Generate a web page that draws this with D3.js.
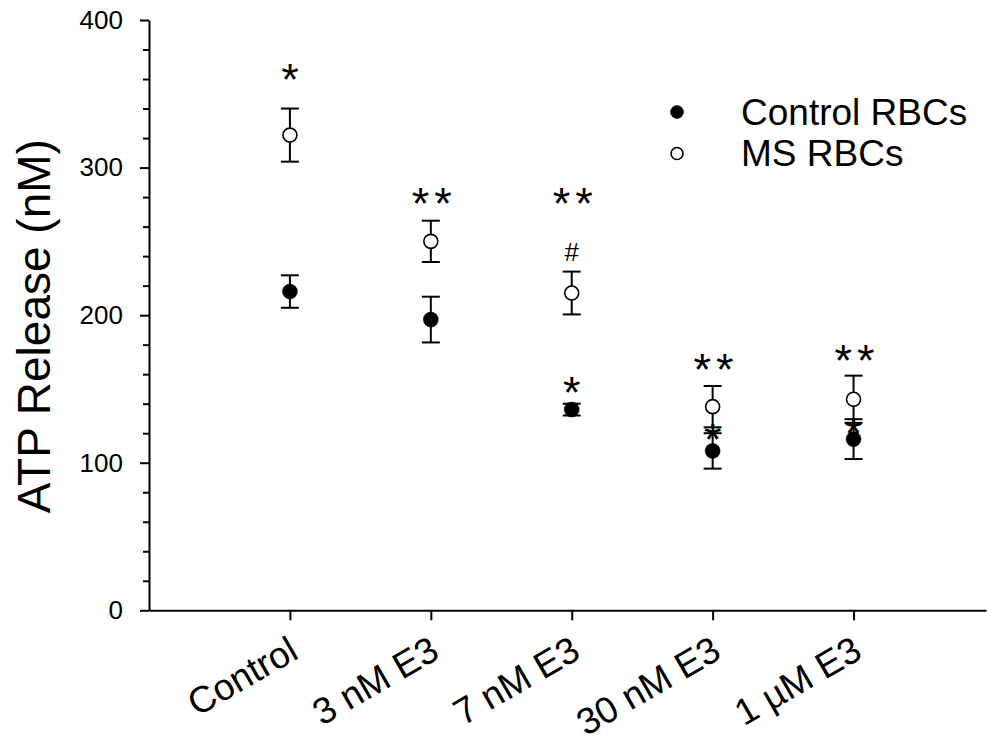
<!DOCTYPE html>
<html>
<head>
<meta charset="utf-8">
<script src="https://cdn.jsdelivr.net/npm/d3@7"></script>
<style>
  html, body { margin: 0; padding: 0; background: #fff; }
  svg { display: block; font-family: Arial, "Liberation Sans", sans-serif; }
</style>
</head>
<body>
<svg id="chart" width="987" height="746"></svg>
<script>
// Treatment groups along the x axis
const categories = ["Control", "3 nM E3", "7 nM E3", "30 nM E3", "1 µM E3"];

// ATP release (nM), mean and error for each group
const controlMean = [216, 197, 136, 108, 116];
const controlErr  = [11, 15.5, 4, 12, 13.5];
const msMean      = [322, 250, 215, 138, 143];
const msErr       = [18, 14, 14.5, 14, 16];

// Series names for the legend
const seriesNames = ["Control RBCs", "MS RBCs"];

// Y axis ticks
const yMajorTicks = [0, 100, 200, 300, 400];
const yMinorTicks = [20, 40, 60, 80, 120, 140, 160, 180, 220, 240, 260, 280, 320, 340, 360, 380];

// Significance marks: group index, symbol, height (nM) of the mark's centre
const marks = [
  { i: 0, text: "*",  value: 365 },
  { i: 1, text: "**", value: 281 },
  { i: 2, text: "**", value: 281 },
  { i: 2, text: "#",  value: 243 },
  { i: 2, text: "*",  value: 152.5 },
  { i: 3, text: "**", value: 168.5 },
  { i: 3, text: "*",  value: 121 },
  { i: 4, text: "**", value: 174.5 },
  { i: 4, text: "*",  value: 125 }
];

const FONT = "Arial, 'Liberation Sans', sans-serif";
const svg = d3.select("#chart");

const x = d3.scaleLinear().domain([-1, 4.94]).range([149, 986]);
const y = d3.scaleLinear().domain([0, 400]).range([610.3, 20]);

// Y axis: major ticks with labels, minor ticks without
const yAxis = svg.append("g")
  .attr("transform", `translate(${x(-1)},0)`)
  .call(d3.axisLeft(y).tickValues(yMajorTicks).tickSize(9).tickSizeOuter(0).tickPadding(17));
yAxis.selectAll("text").attr("font-size", 26).attr("font-family", FONT).attr("fill", "#000");

const yMinor = svg.append("g")
  .attr("transform", `translate(${x(-1)},0)`)
  .call(d3.axisLeft(y).tickValues(yMinorTicks).tickSize(6).tickSizeOuter(0).tickFormat(""));
yMinor.select(".domain").remove();

// X axis with rotated category labels
const xAxis = svg.append("g")
  .attr("transform", `translate(0,${y(0)})`)
  .call(d3.axisBottom(x).tickValues(d3.range(categories.length)).tickSize(10).tickSizeOuter(0)
    .tickFormat(i => categories[i]));
xAxis.selectAll("text")
  .attr("font-size", 37)
  .attr("font-family", FONT)
  .attr("fill", "#000")
  .attr("text-anchor", "end")
  .attr("x", 0).attr("y", 0).attr("dy", 0)
  .attr("transform", "translate(10,47) rotate(-30)");

svg.selectAll(".domain, .tick line").attr("stroke", "#000").attr("stroke-width", 2);

// Y axis title
svg.append("text")
  .attr("transform", `translate(50,${(y(0) + y(400)) / 2 + 11}) rotate(-90)`)
  .attr("text-anchor", "middle")
  .attr("font-size", 46)
  .attr("fill", "#000")
  .text("ATP Release (nM)");

// Error bars and points for each series
function drawSeries(means, errs, filled) {
  const g = svg.append("g");
  const capHalf = 9;
  means.forEach((m, i) => {
    const cx = x(i);
    const lo = y(m - errs[i]), hi = y(m + errs[i]);
    g.append("line").attr("x1", cx).attr("x2", cx).attr("y1", lo).attr("y2", hi)
      .attr("stroke", "#000").attr("stroke-width", 2);
    [lo, hi].forEach(yy => g.append("line")
      .attr("x1", cx - capHalf).attr("x2", cx + capHalf).attr("y1", yy).attr("y2", yy)
      .attr("stroke", "#000").attr("stroke-width", 2));
  });
  g.selectAll("circle").data(means).join("circle")
    .attr("cx", (d, i) => x(i))
    .attr("cy", d => y(d))
    .attr("r", filled ? 7.5 : 7)
    .attr("fill", filled ? "#000" : "#fff")
    .attr("stroke", "#000")
    .attr("stroke-width", filled ? 0.5 : 1.6);
}
drawSeries(controlMean, controlErr, true);
drawSeries(msMean, msErr, false);

// Significance marks
svg.append("g").selectAll("text").data(marks).join("text")
  .attr("x", d => x(d.i))
  .attr("y", d => y(d.value))
  .attr("text-anchor", "middle")
  .attr("fill", "#000")
  .attr("font-size", d => d.text === "#" ? 26 : 45)
  .attr("letter-spacing", d => d.text === "**" ? 5 : 0)
  .attr("dx", d => d.text === "**" ? 3.5 : 0)
  .attr("dy", d => d.text === "#" ? "0.36em" : "0.51em")
  .text(d => d.text);

// Legend
const legend = svg.append("g");
seriesNames.forEach((name, k) => {
  const ly = 112 + k * 41.5;
  legend.append("circle").attr("cx", 677).attr("cy", ly).attr("r", k === 0 ? 6.5 : 6)
    .attr("fill", k === 0 ? "#000" : "#fff").attr("stroke", "#000").attr("stroke-width", k === 0 ? 0.5 : 1.6);
  legend.append("text").attr("x", 741).attr("y", ly + 12.5).attr("font-size", 37).attr("fill", "#000").text(name);
});
</script>
</body>
</html>
